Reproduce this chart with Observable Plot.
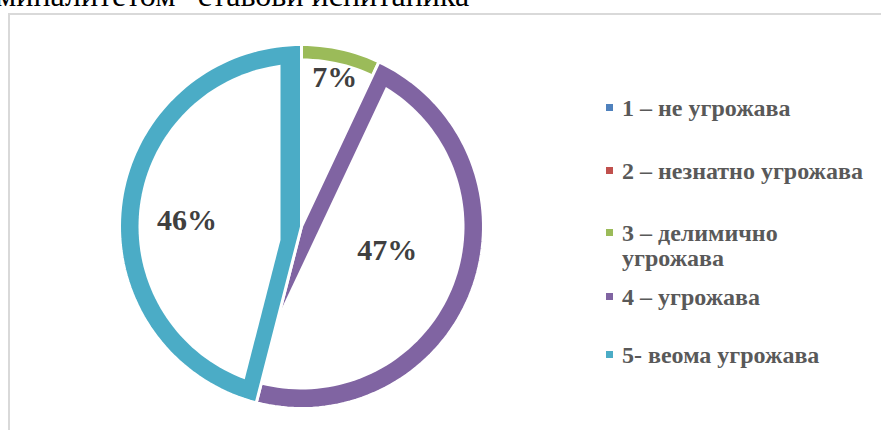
<!DOCTYPE html>
<html><head><meta charset="utf-8">
<script src="https://cdn.jsdelivr.net/npm/d3@7"></script>
<script src="https://cdn.jsdelivr.net/npm/@observablehq/plot@0.6"></script>
<style>
html,body{margin:0;padding:0;background:#fff;overflow:hidden}
#wrap{position:relative;width:881px;height:430px;overflow:hidden;background:#fff}
#caption{position:absolute;left:-4px;top:-23px;font:32px "Liberation Serif","Times New Roman",serif;color:#000;white-space:nowrap;line-height:36px}
#frame{position:absolute;left:8px;top:13px;width:1000px;height:1000px;border:2px solid #d9d9d9;box-sizing:border-box}
#chart{position:absolute;left:0;top:0}
.row{position:absolute;left:622px;width:250px;font:bold 24px "Liberation Serif","Times New Roman",serif;color:#595959;line-height:25px}
.sw{position:absolute;left:-16px;top:8px;width:7px;height:7px}
</style></head><body>
<div id="wrap"><div id="frame"></div><div id="caption"></div><div id="chart"></div><div id="legend"></div></div>
<script>
// ---- data ----
const categories = ["1 – не угрожава", "2 – незнатно угрожава", "3 – делимично угрожава", "4 – угрожава", "5- веома угрожава"];
const percents = [0, 0, 7, 47, 46];
const colors = ["#4F81BD", "#C0504D", "#9BBB59", "#8064A2", "#4BACC6"];
const captionText = "миналитетом“ ставови испитаника";

// ---- layout / style ----
const W = 881, H = 430;
const R = 182, CX = 301, CY = 226;
// rim thickness in px per category: [arc, start edge, end edge]
const insets = [[0,0,0],[0,0,0],[14,0,0],[19,17,0],[19,17,21]];
// label placement per category: radius fraction and angular shift (deg)
const labelPlace = [[0.6,0],[0.6,0],[0.84,0],[0.49,-4],[0.63,-4]];
const legendY = [108, 171, 233, 297, 355];

document.getElementById("caption").textContent = captionText;

const total = d3.sum(percents);
const u = a => [Math.sin(a), -Math.cos(a)];
const slices = [];
let acc = 0;
categories.forEach((c, i) => {
  const v = percents[i];
  const a0 = acc / total * 2 * Math.PI;
  acc += v;
  const a1 = acc / total * 2 * Math.PI;
  if (v > 0) slices.push({key: c, value: v, a0, a1, i});
});

function arcPts(r, a0, a1) {
  const n = Math.max(2, Math.ceil(180 * (a1 - a0) / (2 * Math.PI)));
  return d3.range(n + 1).map(k => {
    const a = a0 + (a1 - a0) * k / n;
    return [r * Math.sin(a), -r * Math.cos(a)];
  });
}

const outerRows = [], innerRows = [], labelRows = [];
for (const s of slices) {
  const pts = [[0, 0], ...arcPts(1, s.a0, s.a1)];
  pts.forEach(([x, y]) => outerRows.push({key: s.key, x, y}));
  const [tA, t0p, t1p] = insets[s.i];
  const ri = 1 - tA / R, t0 = t0p / R, t1 = t1p / R;
  const d0 = Math.asin(t0 / ri), d1 = Math.asin(t1 / ri);
  let apex = [0, 0];
  if (t0 > 0 || t1 > 0) {
    const u0 = u(s.a0), u1 = u(s.a1);
    const n0 = u(s.a0 + Math.PI / 2), n1 = u(s.a1 - Math.PI / 2);
    const P0 = [t0 * n0[0], t0 * n0[1]], P1 = [t1 * n1[0], t1 * n1[1]];
    const dx = P1[0] - P0[0], dy = P1[1] - P0[1];
    const det = -u0[0] * u1[1] + u1[0] * u0[1];
    const sp = (-dx * u1[1] + u1[0] * dy) / det;
    apex = [P0[0] + sp * u0[0], P0[1] + sp * u0[1]];
  }
  const ipts = [apex, ...arcPts(ri, s.a0 + d0, s.a1 - d1)];
  ipts.forEach(([x, y]) => innerRows.push({key: s.key, x, y}));
  const [lr, rot] = labelPlace[s.i];
  const mid = (s.a0 + s.a1) / 2 + rot * Math.PI / 180;
  labelRows.push({x: lr * Math.sin(mid), y: -lr * Math.cos(mid), text: s.value + "%"});
}

const chart = Plot.plot({
  width: W, height: H,
  marginTop: 0, marginRight: 0, marginBottom: 0, marginLeft: 0,
  x: {domain: [-CX / R, (W - CX) / R], range: [0, W], axis: null},
  y: {domain: [-CY / R, (H - CY) / R], range: [0, H], axis: null},
  color: {domain: categories, range: colors},
  style: {background: "transparent"},
  marks: [
    Plot.line(outerRows, {x: "x", y: "y", z: "key", fill: "key", stroke: "white", strokeWidth: 3, curve: "linear-closed"}),
    Plot.line(innerRows, {x: "x", y: "y", z: "key", fill: "white", stroke: "none", curve: "linear-closed"}),
    Plot.text(labelRows, {x: "x", y: "y", text: "text", fontSize: 30, fontWeight: "bold", fontFamily: "Liberation Serif, Times New Roman, serif", fill: "#404040"})
  ]
});
document.getElementById("chart").appendChild(chart);

const legend = document.getElementById("legend");
categories.forEach((c, i) => {
  const row = document.createElement("div");
  row.className = "row";
  row.style.top = (legendY[i] - 12.5) + "px";
  const sw = document.createElement("span");
  sw.className = "sw";
  sw.style.background = colors[i];
  row.appendChild(sw);
  row.appendChild(document.createTextNode(c));
  legend.appendChild(row);
});
</script>
</body></html>
